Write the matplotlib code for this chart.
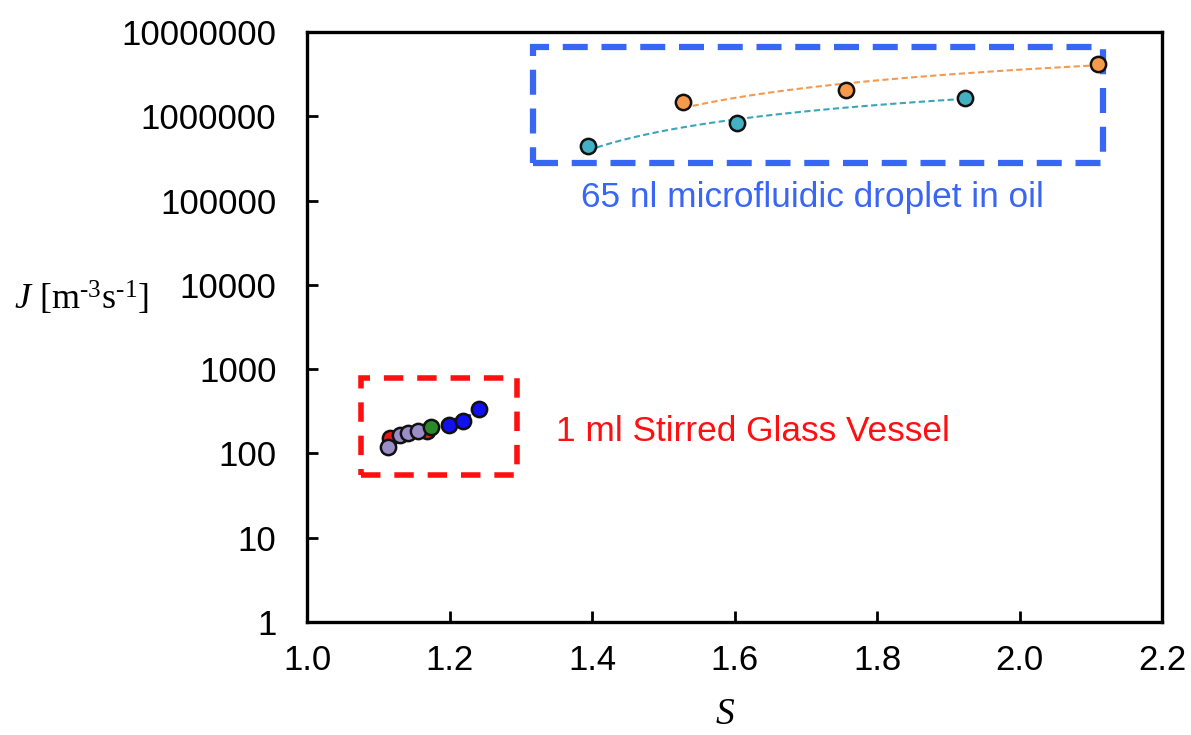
import matplotlib.pyplot as plt
import numpy as np
from matplotlib.patches import Rectangle
from matplotlib.ticker import FixedLocator, FuncFormatter

plt.rcParams['font.family'] = ['Liberation Sans', 'DejaVu Sans']
plt.rcParams['mathtext.fontset'] = 'custom'
plt.rcParams['mathtext.rm'] = 'Liberation Serif'
plt.rcParams['mathtext.it'] = 'Liberation Serif:italic'

# microfluidic droplets (65 nl), two series
s_orange = [1.528, 1.756, 2.110]
j_orange = [1.48e6, 2.05e6, 4.2e6]
s_cyan = [1.394, 1.604, 1.923]
j_cyan = [4.45e5, 8.3e5, 1.65e6]

# stirred glass vessel (1 ml)
s_red = [1.116, 1.168]
j_red = [151, 186]
s_lav = [1.114, 1.130, 1.142, 1.156]
j_lav = [119, 166, 177, 183]
s_green = [1.174]
j_green = [208]
s_blue = [1.199, 1.219, 1.241]
j_blue = [218, 245, 334]

yticks = [1, 10, 100, 1000, 10000, 100000, 1000000, 10000000]
xticks = [1.0, 1.2, 1.4, 1.6, 1.8, 2.0, 2.2]


def log_fit(s, j, n=60):
    # J = a*ln(S) + b, the usual spreadsheet logarithmic trendline
    a, b = np.polyfit(np.log(s), j, 1)
    xs = np.linspace(min(s), max(s), n)
    return xs, a * np.log(xs) + b


fig = plt.figure(figsize=(11.91, 7.35), dpi=100)
ax = fig.add_axes([0.2578, 0.1537, 0.7179, 0.8028])
ax.set_yscale('log')
ax.set_xlim(1.0, 2.2)
ax.set_ylim(1, 1e7)

mk = dict(marker='o', ms=11, mec='#111111', mew=1.8, ls='none', zorder=4)

# trend lines
for s, j, col in [(s_orange, j_orange, '#f39a50'), (s_cyan, j_cyan, '#3aa6b8')]:
    xs, ys = log_fit(s, j)
    ax.plot(xs, ys, ls=(0, (3, 1.6)), color=col, lw=1.5, zorder=3)
xs, ys = log_fit(s_lav + s_blue, j_lav + j_blue)
ax.plot(xs, ys, ls=(0, (3, 1.6)), color='#1a1aff', lw=1.8, zorder=3)
xs, ys = log_fit(s_red, j_red)
ax.plot(xs, ys, ls=(0, (3, 1.6)), color='#d42020', lw=1.5, zorder=3)

ax.plot(s_orange, j_orange, mfc='#f59a4a', **mk)
ax.plot(s_cyan, j_cyan, mfc='#44b0c4', **mk)
ax.plot(s_blue, j_blue, mfc='#1010f0', **mk)
ax.plot(s_red, j_red, mfc='#e81818', **mk)
ax.plot(s_lav, j_lav, mfc='#9a8ec8', **mk)
ax.plot(s_green, j_green, mfc='#2a8a2a', **mk)

# highlight boxes
ax.add_patch(Rectangle((1.317, 2.79e5), 2.117 - 1.317, 6.64e6 - 2.79e5,
                       fill=False, ec='#3a66f5', lw=4.5, ls=(0, (4, 2.2)), zorder=2))
ax.add_patch(Rectangle((1.076, 55.6), 1.295 - 1.076, 787 - 55.6,
                       fill=False, ec='#ff1010', lw=4.0, ls=(0, (3.5, 2.5)), zorder=2))

ax.text(1.709, 1.1e5, '65 nl microfluidic droplet in oil', color='#3a66f5',
        fontsize=25.4, ha='center', va='center')
ax.text(1.626, 180, '1 ml Stirred Glass Vessel', color='#ff1010',
        fontsize=25.4, ha='center', va='center')

ax.yaxis.set_major_locator(FixedLocator(yticks))
ax.yaxis.set_major_formatter(FuncFormatter(lambda v, p: '%d' % round(v)))
ax.yaxis.set_minor_locator(FixedLocator([]))
ax.set_xticks(xticks)
ax.set_xticklabels(['%.1f' % v for v in xticks])

ax.tick_params(direction='in', length=8, width=2, labelsize=25)
ax.tick_params(axis='y', pad=22)
ax.tick_params(axis='x', pad=16)
for sp in ax.spines.values():
    sp.set_linewidth(2.4)

hy = '\u2010'
ylab = '$J$ [m$^{\\mathregular{' + hy + '3}}$s$^{\\mathregular{' + hy + '1}}$]'
fig.text(0.012, 0.594, ylab, fontsize=26, family='Liberation Serif',
         ha='left', va='center')
fig.text(0.609, 0.028, r'$S$', fontsize=27, ha='center', va='center')

fig.savefig('out.png', dpi=100)
